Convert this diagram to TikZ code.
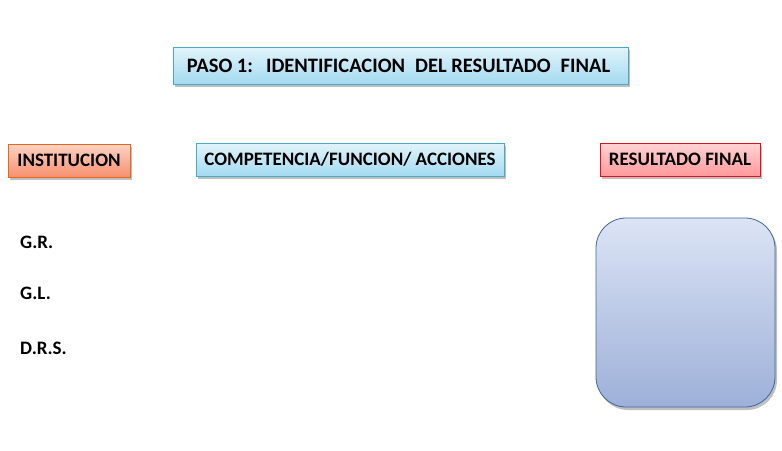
\documentclass[tikz,border=0pt]{standalone}
\usepackage{fontspec}
\setmainfont{Carlito}
\usetikzlibrary{shadows}
\definecolor{bluetop}{HTML}{E2F4FB}
\definecolor{bluebot}{HTML}{A3DAF1}
\definecolor{blueline}{HTML}{46AAC5}
\definecolor{orgtop}{HTML}{FDD3C4}
\definecolor{orgbot}{HTML}{F7906F}
\definecolor{orgline}{HTML}{E4681C}
\definecolor{redtop}{HTML}{FFD4D4}
\definecolor{redbot}{HTML}{FF999C}
\definecolor{redline}{HTML}{E2101E}
\definecolor{rtop}{HTML}{DCE4F5}
\definecolor{rbot}{HTML}{9DB0D8}
\definecolor{rline}{HTML}{3D65A0}
\tikzset{
  x=1pt, y=-1pt,
  lbl/.style={font=\fontsize{19}{22}\selectfont\bfseries, text=black},
  boxbase/.style={lbl, rectangle, inner sep=0pt, line width=0.8pt,
     drop shadow={shadow xshift=2pt, shadow yshift=-3pt, opacity=0.25, fill=black}},
  bluebox/.style={boxbase, draw=blueline, top color=bluetop, bottom color=bluebot},
  orgbox/.style={boxbase, draw=orgline, top color=orgtop, bottom color=orgbot},
  redbox/.style={boxbase, draw=redline, top color=redtop, bottom color=redbot},
  plain/.style={lbl, anchor=west, inner sep=0pt},
}
\begin{document}
\begin{tikzpicture}
\useasboundingbox (0,0) rectangle (782,450);
\node[bluebox, minimum width=455pt, minimum height=37pt, font=\fontsize{20.5}{24}\selectfont\bfseries] (title) at (400.5,65.5) {\makebox[0pt][c]{\hspace{-4pt}PASO 1:\hspace{13pt}IDENTIFICACION\hspace{10pt}DEL RESULTADO\hspace{10pt}FINAL}};
\node[orgbox, minimum width=122pt, minimum height=33pt] (inst) at (69,160.5) {INSTITUCION};
\node[bluebox, minimum width=308pt, minimum height=33pt] (comp) at (350,159.5) {COMPETENCIA/FUNCION/ ACCIONES};
\node[redbox, minimum width=160pt, minimum height=33pt] (res) at (680,159.5) {RESULTADO FINAL};
\node[rectangle, rounded corners=30pt, draw=rline, line width=0.8pt, top color=rtop, bottom color=rbot,
  minimum width=179pt, minimum height=189pt,
  drop shadow={shadow xshift=2pt, shadow yshift=-3pt, opacity=0.25, fill=black}] (final) at (685.5,312.5) {};
\node[plain] (gr) at (20,242) {G.R.};
\node[plain] (gl) at (20,293) {G.L.};
\node[plain] (drs) at (20,348) {D.R.S.};
\end{tikzpicture}
\end{document}
